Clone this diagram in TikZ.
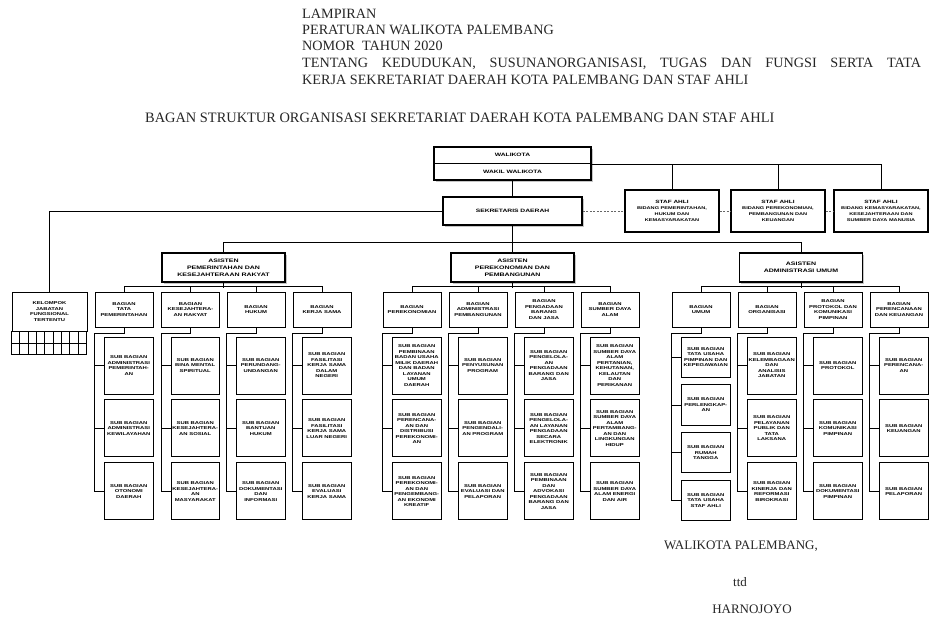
\documentclass[tikz,border=0pt]{standalone}
\usepackage{fontspec}
\setmainfont{Liberation Serif}
\newfontfamily\kotakfont{Liberation Sans}[FakeStretch=1.4]
\usetikzlibrary{positioning,shadows}

\begin{document}
\begin{tikzpicture}[x=1pt,y=-1pt,
    kotak/.style={draw,line width=0.9pt,fill=white,inner sep=0pt,align=center,
      font=\kotakfont\bfseries\fontsize{4.2}{5.5}\selectfont},
    pejabat/.style={kotak,line width=1.8pt,font=\kotakfont\bfseries\fontsize{4.8}{6.6}\selectfont,
      drop shadow={shadow xshift=1.6pt,shadow yshift=-1.6pt,fill=black!45}},
    asisten/.style={pejabat,minimum width=123pt,minimum height=29pt,
      font=\kotakfont\bfseries\fontsize{5}{7}\selectfont},
    bagian/.style={kotak,minimum width=58pt,minimum height=35pt},
    subbag/.style={kotak,minimum width=48.5pt,minimum height=57pt},
    subumum/.style={kotak,minimum width=48.5pt,minimum height=40.5pt},
    staf/.style={kotak,line width=1.4pt,minimum width=94pt,minimum height=42pt,
      font=\kotakfont\bfseries\fontsize{4}{6}\selectfont},
    garis/.style={line width=0.9pt},
    teks/.style={anchor=base west,inner sep=0pt,text=black!85,font=\fontsize{14.2}{16}\selectfont}]
  \useasboundingbox (0,0) rectangle (930,621);
  \fill[white] (0,0) rectangle (930,621);

  \node[teks] (lampiran) at (302,18.5) {LAMPIRAN};
  \node[teks] (peraturan) at (302,34.5) {PERATURAN WALIKOTA PALEMBANG};
  \node[teks] (nomor) at (302,50.5) {NOMOR\ \ TAHUN 2020};
  \node[teks] (tentang) at (302,67.5) {\makebox[619pt][s]{TENTANG KEDUDUKAN, SUSUNANORGANISASI, TUGAS DAN FUNGSI SERTA TATA}};
  \node[teks] (kerja) at (302,84.5) {KERJA SEKRETARIAT DAERAH KOTA PALEMBANG DAN STAF AHLI};
  \node[teks,font=\fontsize{14.4}{16}\selectfont] (judul) at (145,122) {BAGAN STRUKTUR ORGANISASI SEKRETARIAT DAERAH KOTA PALEMBANG DAN STAF AHLI};

  \node[pejabat,minimum width=157pt,minimum height=16.5pt] (walikota) at (512.5,155.25) {WALIKOTA};
  \node[pejabat,minimum width=157pt,minimum height=16.5pt] (wakil) at (512.5,171.75) {WAKIL WALIKOTA};
  \node[pejabat,minimum width=139pt,minimum height=28pt] (sekda) at (512.5,211) {SEKRETARIS DAERAH};
  \node[staf] (staf1) at (672,211) {{\fontsize{4.6}{6}\selectfont STAF AHLI}\\BIDANG PEMERINTAHAN,\\HUKUM DAN\\KEMASYARAKATAN};
  \node[staf] (staf2) at (778,211) {{\fontsize{4.6}{6}\selectfont STAF AHLI}\\BIDANG PEREKONOMIAN,\\PEMBANGUNAN DAN\\KEUANGAN};
  \node[staf] (staf3) at (881,211) {{\fontsize{4.6}{6}\selectfont STAF AHLI}\\BIDANG KEMASYARAKATAN,\\KESEJAHTERAAN DAN\\SUMBER DAYA MANUSIA};
  \node[kotak,minimum width=75pt,minimum height=39pt] (kjf) at (49.5,311.5) {KELOMPOK\\JABATAN\\FUNGSIONAL\\TERTENTU};

  \node[asisten] (asisten1) at (223.5,267.5) {ASISTEN\\PEMERINTAHAN DAN\\KESEJAHTERAAN RAKYAT};
  \node[asisten] (asisten2) at (512.5,267.5) {ASISTEN\\PEREKONOMIAN DAN\\PEMBANGUNAN};
  \node[asisten] (asisten3) at (801,267.5) {ASISTEN\\ADMINISTRASI UMUM};

  \node[bagian] (tapem) at (124,309.5) {BAGIAN\\TATA\\PEMERINTAHAN};
  \node[bagian] (kesra) at (190.5,309.5) {BAGIAN\\KESEJAHTERA-\\AN RAKYAT};
  \node[bagian] (hukum) at (256,309.5) {BAGIAN\\HUKUM};
  \node[bagian] (kerjasama) at (322,309.5) {BAGIAN\\KERJA SAMA};
  \node[bagian] (ekonomi) at (412,309.5) {BAGIAN\\PEREKONOMIAN};
  \node[bagian] (adpem) at (478,309.5) {BAGIAN\\ADMINISTRASI\\PEMBANGUNAN};
  \node[bagian] (pbj) at (544,309.5) {BAGIAN\\PENGADAAN\\BARANG\\DAN JASA};
  \node[bagian] (sda) at (610,309.5) {BAGIAN\\SUMBER DAYA\\ALAM};
  \node[bagian] (umum) at (701,309.5) {BAGIAN\\UMUM};
  \node[bagian] (organisasi) at (767,309.5) {BAGIAN\\ORGANISASI};
  \node[bagian] (prokopim) at (833,309.5) {BAGIAN\\PROTOKOL DAN\\KOMUNIKASI\\PIMPINAN};
  \node[bagian] (renkeu) at (899,309.5) {BAGIAN\\PERENCANAAN\\DAN KEUANGAN};

  \node[subbag] (tapem1) at (128.75,365.5) {SUB BAGIAN\\ADMINISTRASI\\PEMERINTAH-\\AN};
  \node[subbag,below=5pt of tapem1] (tapem2) {SUB BAGIAN\\ADMINISTRASI\\KEWILAYAHAN};
  \node[subbag,below=5pt of tapem2] (tapem3) {SUB BAGIAN\\OTONOMI\\DAERAH};
  \node[subbag] (kesra1) at (195.25,365.5) {SUB BAGIAN\\BINA MENTAL\\SPIRITUAL};
  \node[subbag,below=5pt of kesra1] (kesra2) {SUB BAGIAN\\KESEJAHTERA-\\AN SOSIAL};
  \node[subbag,below=5pt of kesra2] (kesra3) {SUB BAGIAN\\KESEJAHTERA-\\AN\\MASYARAKAT};
  \node[subbag] (hukum1) at (260.75,365.5) {SUB BAGIAN\\PERUNDANG-\\UNDANGAN};
  \node[subbag,below=5pt of hukum1] (hukum2) {SUB BAGIAN\\BANTUAN\\HUKUM};
  \node[subbag,below=5pt of hukum2] (hukum3) {SUB BAGIAN\\DOKUMENTASI\\DAN\\INFORMASI};
  \node[subbag] (kerjasama1) at (326.75,365.5) {SUB BAGIAN\\FASILITASI\\KERJA SAMA\\DALAM\\NEGERI};
  \node[subbag,below=5pt of kerjasama1] (kerjasama2) {SUB BAGIAN\\FASILITASI\\KERJA SAMA\\LUAR NEGERI};
  \node[subbag,below=5pt of kerjasama2] (kerjasama3) {SUB BAGIAN\\EVALUASI\\KERJA SAMA};

  \node[subbag] (ekonomi1) at (416.75,365.5) {SUB BAGIAN\\PEMBINAAN\\BADAN USAHA\\MILIK DAERAH\\DAN BADAN\\LAYANAN\\UMUM\\DAERAH};
  \node[subbag,below=5pt of ekonomi1] (ekonomi2) {SUB BAGIAN\\PERENCANA-\\AN DAN\\DISTRIBUSI\\PEREKONOMI-\\AN};
  \node[subbag,below=5pt of ekonomi2] (ekonomi3) {SUB BAGIAN\\PEREKONOMI-\\AN DAN\\PENGEMBANG-\\AN EKONOMI\\KREATIF};
  \node[subbag] (adpem1) at (482.75,365.5) {SUB BAGIAN\\PENYUSUNAN\\PROGRAM};
  \node[subbag,below=5pt of adpem1] (adpem2) {SUB BAGIAN\\PENGENDALI-\\AN PROGRAM};
  \node[subbag,below=5pt of adpem2] (adpem3) {SUB BAGIAN\\EVALUASI DAN\\PELAPORAN};
  \node[subbag] (pbj1) at (548.75,365.5) {SUB BAGIAN\\PENGELOLA-\\AN\\PENGADAAN\\BARANG DAN\\JASA};
  \node[subbag,below=5pt of pbj1] (pbj2) {SUB BAGIAN\\PENGELOLA-\\AN LAYANAN\\PENGADAAN\\SECARA\\ELEKTRONIK};
  \node[subbag,below=5pt of pbj2] (pbj3) {SUB BAGIAN\\PEMBINAAN\\DAN\\ADVOKASI\\PENGADAAN\\BARANG DAN\\JASA};
  \node[subbag] (sda1) at (614.75,365.5) {SUB BAGIAN\\SUMBER DAYA\\ALAM\\PERTANIAN,\\KEHUTANAN,\\KELAUTAN\\DAN\\PERIKANAN};
  \node[subbag,below=5pt of sda1] (sda2) {SUB BAGIAN\\SUMBER DAYA\\ALAM\\PERTAMBANG-\\AN DAN\\LINGKUNGAN\\HIDUP};
  \node[subbag,below=5pt of sda2] (sda3) {SUB BAGIAN\\SUMBER DAYA\\ALAM ENERGI\\DAN AIR};

  \node[subumum] (umum1) at (705.75,357.25) {SUB BAGIAN\\TATA USAHA\\PIMPINAN DAN\\KEPEGAWAIAN};
  \node[subumum,below=6.3pt of umum1] (umum2) {SUB BAGIAN\\PERLENGKAP-\\AN};
  \node[subumum,below=6.3pt of umum2] (umum3) {SUB BAGIAN\\RUMAH\\TANGGA};
  \node[subumum,below=6.3pt of umum3] (umum4) {SUB BAGIAN\\TATA USAHA\\STAF AHLI};
  \node[subbag] (organisasi1) at (771.75,365.5) {SUB BAGIAN\\KELEMBAGAAN\\DAN\\ANALISIS\\JABATAN};
  \node[subbag,below=5pt of organisasi1] (organisasi2) {SUB BAGIAN\\PELAYANAN\\PUBLIK DAN\\TATA\\LAKSANA};
  \node[subbag,below=5pt of organisasi2] (organisasi3) {SUB BAGIAN\\KINERJA DAN\\REFORMASI\\BIROKRASI};
  \node[subbag] (prokopim1) at (837.75,365.5) {SUB BAGIAN\\PROTOKOL};
  \node[subbag,below=5pt of prokopim1] (prokopim2) {SUB BAGIAN\\KOMUNIKASI\\PIMPINAN};
  \node[subbag,below=5pt of prokopim2] (prokopim3) {SUB BAGIAN\\DOKUMENTASI\\PIMPINAN};
  \node[subbag] (renkeu1) at (903.75,365.5) {SUB BAGIAN\\PERENCANA-\\AN};
  \node[subbag,below=5pt of renkeu1] (renkeu2) {SUB BAGIAN\\KEUANGAN};
  \node[subbag,below=5pt of renkeu2] (renkeu3) {SUB BAGIAN\\PELAPORAN};

  \draw[garis] (wakil.south) -- (sekda.north);
  \draw[garis] (walikota.south east) -| (staf1.north) (walikota.south east) -| (staf2.north)
    (walikota.south east) -| (staf3.north);
  \draw[line width=0.6pt,black!60,dash pattern=on 2pt off 1.5pt] (sekda.east) -- (staf1.west)
    (staf1.east) -- (staf2.west) (staf2.east) -- (staf3.west);
  \draw[garis] (sekda.west) -| (kjf.north);
  \draw[garis] (kjf.south west) rectangle ++(75,23);
  \draw[garis] (kjf.south west) ++(0,11.5) -- ++(75,0);
  \foreach \i in {1,...,8}
    \draw[garis] (kjf.south west) ++(\i*75/9,0) -- ++(0,23);
  \draw[garis] (sekda.south) -- (asisten2.north) (asisten1.north) -- ++(0,-10) -| (asisten3.north);

  \draw[garis] (asisten1.south) -- ++(0,5) (tapem.north) -- ++(0,-5) -| (kerjasama.north)
    (kesra.north) -- ++(0,-5) (hukum.north) -- ++(0,-5);
  \draw[garis] (asisten2.south) -- ++(0,5) (ekonomi.north) -- ++(0,-5) -| (sda.north)
    (adpem.north) -- ++(0,-5) (pbj.north) -- ++(0,-5);
  \draw[garis] (asisten3.south) -- ++(0,5) (umum.north) -- ++(0,-5) -| (renkeu.north)
    (organisasi.north) -- ++(0,-5) (prokopim.north) -- ++(0,-5);

  \draw[garis] (tapem.south) -- ++(0,6) -| (tapem3.west -| tapem.west) -- (tapem3.west)
    (tapem1.west -| tapem.west) -- (tapem1.west) (tapem2.west -| tapem.west) -- (tapem2.west);
  \draw[garis] (kesra.south) -- ++(0,6) -| (kesra3.west -| kesra.west) -- (kesra3.west)
    (kesra1.west -| kesra.west) -- (kesra1.west) (kesra2.west -| kesra.west) -- (kesra2.west);
  \draw[garis] (hukum.south) -- ++(0,6) -| (hukum3.west -| hukum.west) -- (hukum3.west)
    (hukum1.west -| hukum.west) -- (hukum1.west) (hukum2.west -| hukum.west) -- (hukum2.west);
  \draw[garis] (kerjasama.south) -- ++(0,6) -| (kerjasama3.west -| kerjasama.west) -- (kerjasama3.west)
    (kerjasama1.west -| kerjasama.west) -- (kerjasama1.west) (kerjasama2.west -| kerjasama.west) -- (kerjasama2.west);
  \draw[garis] (ekonomi.south) -- ++(0,6) -| (ekonomi3.west -| ekonomi.west) -- (ekonomi3.west)
    (ekonomi1.west -| ekonomi.west) -- (ekonomi1.west) (ekonomi2.west -| ekonomi.west) -- (ekonomi2.west);
  \draw[garis] (adpem.south) -- ++(0,6) -| (adpem3.west -| adpem.west) -- (adpem3.west)
    (adpem1.west -| adpem.west) -- (adpem1.west) (adpem2.west -| adpem.west) -- (adpem2.west);
  \draw[garis] (pbj.south) -- ++(0,6) -| (pbj3.west -| pbj.west) -- (pbj3.west)
    (pbj1.west -| pbj.west) -- (pbj1.west) (pbj2.west -| pbj.west) -- (pbj2.west);
  \draw[garis] (sda.south) -- ++(0,6) -| (sda3.west -| sda.west) -- (sda3.west)
    (sda1.west -| sda.west) -- (sda1.west) (sda2.west -| sda.west) -- (sda2.west);
  \draw[garis] (umum.south) -- ++(0,6) -| (umum4.west -| umum.west) -- (umum4.west)
    (umum1.west -| umum.west) -- (umum1.west) (umum2.west -| umum.west) -- (umum2.west)
    (umum3.west -| umum.west) -- (umum3.west);
  \draw[garis] (organisasi.south) -- ++(0,6) -| (organisasi3.west -| organisasi.west) -- (organisasi3.west)
    (organisasi1.west -| organisasi.west) -- (organisasi1.west) (organisasi2.west -| organisasi.west) -- (organisasi2.west);
  \draw[garis] (prokopim.south) -- ++(0,6) -| (prokopim3.west -| prokopim.west) -- (prokopim3.west)
    (prokopim1.west -| prokopim.west) -- (prokopim1.west) (prokopim2.west -| prokopim.west) -- (prokopim2.west);
  \draw[garis] (renkeu.south) -- ++(0,6) -| (renkeu3.west -| renkeu.west) -- (renkeu3.west)
    (renkeu1.west -| renkeu.west) -- (renkeu1.west) (renkeu2.west -| renkeu.west) -- (renkeu2.west);

  \node[teks,anchor=base,font=\fontsize{13}{15}\selectfont] (jabatan) at (741,549.5) {WALIKOTA PALEMBANG,};
  \node[teks,anchor=base,font=\fontsize{13}{15}\selectfont] (ttd) at (740,586) {ttd};
  \node[teks,anchor=base,font=\fontsize{13}{15}\selectfont] (namawali) at (752,613) {HARNOJOYO};
\end{tikzpicture}
\end{document}
